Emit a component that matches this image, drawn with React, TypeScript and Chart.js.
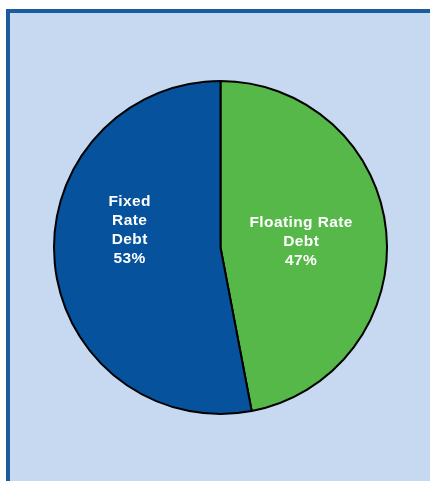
import React, { useEffect, useRef } from "react";
import { Chart, registerables } from "chart.js";

Chart.register(...registerables);

const categories = ["Floating Rate Debt", "Fixed Rate Debt"];
const shares = [47, 53];
const labelLines = [["Floating Rate", "Debt"], ["Fixed", "Rate", "Debt"]];
const sliceColors = ["#55b848", "#07529d"];

const labelPlugin = {
  id: "sliceLabels",
  afterDatasetsDraw(chart: any, _args: any, opts: any) {
    const ctx = chart.ctx;
    const meta = chart.getDatasetMeta(0);
    const data = chart.data.datasets[0].data as number[];
    const total = data.reduce((a, b) => a + b, 0);
    ctx.save();
    ctx.fillStyle = "#ffffff";
    ctx.font = opts.font;
    try {
      (ctx as any).letterSpacing = opts.letterSpacing;
    } catch (e) {}
    ctx.textAlign = "center";
    ctx.textBaseline = "middle";
    meta.data.forEach((arc: any, i: number) => {
      const p = opts.placement[i];
      const ang = (p.angleDeg * Math.PI) / 180;
      const r = arc.outerRadius * p.frac;
      const cx = arc.x + Math.sin(ang) * r;
      const cy = arc.y - Math.cos(ang) * r;
      const lines = [...labelLines[i], Math.round((data[i] / total) * 100) + "%"];
      const lh = opts.lineHeight;
      const startY = cy - ((lines.length - 1) * lh) / 2;
      lines.forEach((t: string, k: number) => ctx.fillText(t, cx, startY + k * lh));
    });
    ctx.restore();
  },
};

export default function App() {
  const ref = useRef<HTMLCanvasElement>(null);
  useEffect(() => {
    if (!ref.current) return;
    const chart = new Chart(ref.current, {
      type: "pie",
      data: {
        labels: categories,
        datasets: [
          {
            data: shares,
            backgroundColor: sliceColors,
            borderColor: "#000000",
            borderWidth: 2,
          },
        ],
      },
      options: {
        responsive: false,
        animation: false,
        layout: { padding: { left: 53, right: 42, top: 80, bottom: 66 } },
        plugins: {
          legend: { display: false },
          tooltip: { enabled: false },
          sliceLabels: {
            font: "bold 15.5px 'Liberation Sans', Arial, sans-serif",
            letterSpacing: "0.4px",
            lineHeight: 19,
            placement: [
              { frac: 0.486, angleDeg: 85.7 },
              { frac: 0.555, angleDeg: 280.6 },
            ],
          },
        } as any,
      },
      plugins: [labelPlugin],
    });
    return () => chart.destroy();
  }, []);

  return (
    <div style={{ position: "fixed", left: 0, top: 0, width: 430, height: 481, background: "#ffffff", overflow: "hidden" }}>
      <div
        style={{
          position: "absolute",
          left: 6,
          top: 9,
          width: 440,
          height: 500,
          boxSizing: "border-box",
          border: "4px solid #1b5c9c",
          background: "#c6d9f0",
        }}
      />
      <canvas ref={ref} width={430} height={481} style={{ position: "absolute", left: 0, top: 0 }} />
    </div>
  );
}
